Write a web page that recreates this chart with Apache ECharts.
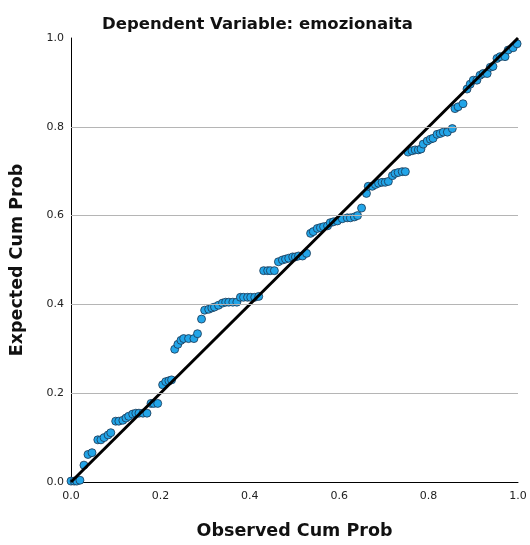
<!DOCTYPE html>
<html>
<head>
<meta charset="utf-8">
<script src="https://cdn.jsdelivr.net/npm/echarts@6/dist/echarts.min.js"></script>
<style>html,body{margin:0;padding:0;background:#fff;}#c{width:530px;height:545px;}</style>
</head>
<body>
<div id="c"></div>
<script>
const titleText = "Dependent Variable: emozionaita";
const xName = "Observed Cum Prob";
const yName = "Expected Cum Prob";
const tickValues = [0.0, 0.2, 0.4, 0.6, 0.8, 1.0];
const gridValues = [0.2, 0.4, 0.6, 0.8];
const observed = [0.000,0.007,0.013,0.020,0.029,0.038,0.047,0.060,0.067,0.074,0.083,0.089,0.100,0.107,0.116,0.123,0.129,0.138,0.145,0.152,0.161,0.170,0.179,0.185,0.194,0.205,0.212,0.219,0.225,0.232,0.239,0.246,0.252,0.263,0.275,0.283,0.292,0.299,0.308,0.315,0.321,0.330,0.339,0.346,0.353,0.362,0.371,0.379,0.386,0.395,0.402,0.411,0.420,0.431,0.440,0.446,0.455,0.464,0.473,0.480,0.487,0.496,0.502,0.509,0.518,0.527,0.536,0.542,0.551,0.558,0.565,0.574,0.580,0.587,0.596,0.607,0.618,0.625,0.634,0.641,0.650,0.661,0.665,0.674,0.681,0.688,0.696,0.703,0.710,0.719,0.725,0.732,0.741,0.748,0.754,0.763,0.770,0.777,0.783,0.788,0.797,0.804,0.810,0.819,0.826,0.833,0.842,0.853,0.859,0.866,0.877,0.886,0.893,0.900,0.908,0.915,0.922,0.931,0.938,0.944,0.953,0.960,0.971,0.978,0.989,0.998];
const expected = [0.002,0.002,0.002,0.004,0.038,0.062,0.066,0.095,0.095,0.100,0.106,0.111,0.137,0.137,0.139,0.144,0.148,0.153,0.155,0.155,0.155,0.155,0.177,0.177,0.177,0.219,0.226,0.228,0.230,0.299,0.310,0.319,0.323,0.323,0.323,0.334,0.367,0.387,0.389,0.392,0.394,0.398,0.403,0.405,0.405,0.405,0.405,0.416,0.416,0.416,0.416,0.416,0.418,0.476,0.476,0.476,0.476,0.496,0.500,0.502,0.504,0.507,0.507,0.509,0.509,0.515,0.560,0.564,0.571,0.573,0.575,0.577,0.584,0.586,0.588,0.593,0.595,0.595,0.597,0.600,0.617,0.650,0.666,0.666,0.670,0.673,0.675,0.675,0.677,0.690,0.695,0.697,0.699,0.699,0.743,0.746,0.748,0.748,0.750,0.761,0.768,0.772,0.774,0.783,0.785,0.788,0.788,0.796,0.841,0.845,0.852,0.885,0.896,0.905,0.905,0.916,0.920,0.920,0.934,0.936,0.954,0.958,0.958,0.973,0.978,0.987];
const refLine = [[0, 0], [1, 1]];

const points = observed.map((v, i) => [v, expected[i]]);
const FONT = "DejaVu Sans";
const chart = echarts.init(document.getElementById('c'), null, {renderer: 'canvas'});
chart.setOption({
  animation: false,
  backgroundColor: '#ffffff',
  title: {
    text: titleText, left: 97, top: 11,
    textStyle: {fontFamily: FONT, fontSize: 16.5, fontWeight: 'bold', color: '#111'}
  },
  grid: {left: 70, right: 12, top: 38, bottom: 55},
  xAxis: {
    type: 'value', min: 0, max: 1, interval: 0.2,
    name: xName, nameLocation: 'middle', nameGap: 40,
    nameTextStyle: {fontFamily: FONT, fontSize: 17.5, fontWeight: 'bold', color: '#111'},
    axisLine: {show: true, onZero: false, lineStyle: {color: '#000', width: 1}},
    axisTick: {show: false},
    splitLine: {show: false},
    axisLabel: {fontFamily: FONT, fontSize: 11, color: '#222', margin: 9,
      formatter: v => v.toFixed(1)}
  },
  yAxis: {
    type: 'value', min: 0, max: 1, interval: 0.2,
    name: yName, nameLocation: 'middle', nameGap: 45,
    nameTextStyle: {fontFamily: FONT, fontSize: 17.5, fontWeight: 'bold', color: '#111'},
    axisLine: {show: true, onZero: false, lineStyle: {color: '#000', width: 1}},
    axisTick: {show: false},
    splitLine: {show: false},
    axisLabel: {fontFamily: FONT, fontSize: 11, color: '#222', margin: 7,
      formatter: v => v.toFixed(1)}
  },
  series: [
    {
      type: 'line', data: [], silent: true,
      markLine: {
        silent: true, symbol: 'none', label: {show: false},
        lineStyle: {color: '#b5b5b5', type: 'solid', width: 1},
        data: gridValues.map(v => ({yAxis: v}))
      }
    },
    {
      type: 'scatter', data: points, symbolSize: 8, z: 3,
      itemStyle: {color: '#22a5e8', borderColor: '#1b3550', borderWidth: 0.8, opacity: 1}
    },
    {
      type: 'line', data: refLine, symbol: 'none', z: 4,
      lineStyle: {color: '#000', width: 3}
    }
  ]
});
</script>
</body>
</html>
